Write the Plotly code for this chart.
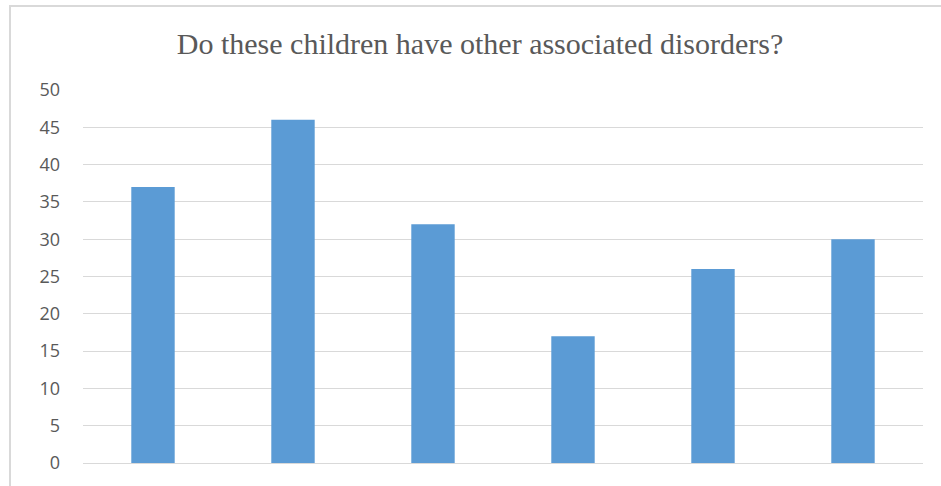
import plotly.graph_objects as go

categories = ["A", "B", "C", "D", "E", "F"]
values = [37, 46, 32, 17, 26, 30]
tick_vals = [0, 5, 10, 15, 20, 25, 30, 35, 40, 45, 50]

W, H = 941, 486
L, R, T, B = 83, 18, 90, 23
pw, ph = W - L - R, H - T - B

fig = go.Figure(go.Bar(
    x=categories, y=values,
    marker=dict(color="#5b9bd5", line=dict(width=0)),
    width=0.31,
))

fig.update_layout(
    width=W, height=H,
    margin=dict(l=L, r=R, t=T, b=B),
    paper_bgcolor="white", plot_bgcolor="white",
    showlegend=False,
    title=dict(
        text="Do these children have other associated disorders?",
        x=(480 - L) / pw, xanchor="center", xref="paper",
        y=(H - 43) / H, yanchor="middle",
        font=dict(family="Liberation Serif, Times New Roman, serif", size=30, color="#595959"),
    ),
    xaxis=dict(showticklabels=False, showgrid=False, zeroline=False, showline=False, ticks=""),
    yaxis=dict(
        range=[0, 50], tickvals=tick_vals,
        showgrid=True, gridcolor="#d9d9d9", gridwidth=1,
        zeroline=True, zerolinecolor="#d9d9d9", zerolinewidth=1,
        showline=False, ticks="", ticklabelstandoff=22,
        tickfont=dict(family="Open Sans, Carlito, Calibri, sans-serif", size=18, color="#595959"),
    ),
    shapes=[dict(
        type="rect", xref="paper", yref="paper",
        x0=(10 - L) / pw, x1=(W + 10 - L) / pw,
        y0=-0.2, y1=(H - B - 6) / ph,
        line=dict(color="#d9d9d9", width=2), fillcolor="rgba(0,0,0,0)", layer="below",
    )],
)

fig.write_html("out.html")
